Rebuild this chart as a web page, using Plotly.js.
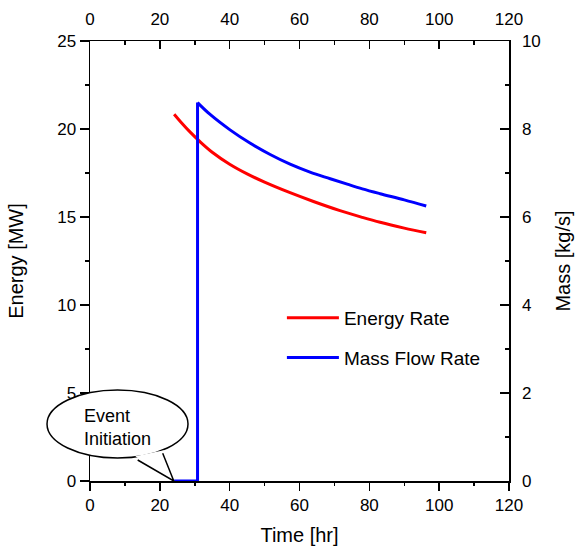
<!DOCTYPE html>
<html>
<head>
<meta charset="utf-8">
<script src="https://cdn.plot.ly/plotly-3.0.1.min.js"></script>
<style>body{margin:0;background:#fff}#chart{width:576px;height:549px}</style>
</head>
<body>
<div id="chart"></div>
<script>
// Energy rate (MW) vs time (hr)
const energyTime = [24.1, 26, 28.7, 31.5, 35, 40, 45, 50, 57.3, 64, 71.6, 78, 83.1, 90, 96.3];
const energyRate = [20.84, 20.40, 19.82, 19.28, 18.68, 18.0, 17.45, 16.98, 16.38, 15.88, 15.36, 14.98, 14.7, 14.37, 14.1];
// Mass flow rate (kg/s): zero step before the jump, then decay
const massStepTime = [24.1, 30.8, 30.8];
const massStepRate = [0, 0, 8.6];
const massTime = [30.8, 34.4, 40.1, 45.8, 51.6, 57.3, 63, 68.8, 73.9, 78, 83.1, 90, 96.3];
const massRate = [8.6, 8.33, 7.98, 7.68, 7.42, 7.2, 7.02, 6.87, 6.74, 6.64, 6.53, 6.39, 6.25];

const FONT = 'Liberation Sans, Arial, sans-serif';

const dummy = (xa, ya) => ({x: [0], y: [0], xaxis: xa, yaxis: ya, mode: 'markers', marker: {opacity: 0},
  showlegend: false, hoverinfo: 'skip'});

const traces = [
  {x: energyTime, y: energyRate, name: 'Energy Rate', type: 'scatter', mode: 'lines', legendgroup: 'e',
   line: {color: '#ff0000', width: 3, shape: 'spline', smoothing: 1}, xaxis: 'x', yaxis: 'y'},
  {x: massTime, y: massRate, name: 'Mass Flow Rate', type: 'scatter', mode: 'lines', legendgroup: 'm',
   line: {color: '#0000ff', width: 3, shape: 'spline', smoothing: 1}, xaxis: 'x', yaxis: 'y2'},
  {x: massStepTime, y: massStepRate, name: 'Mass Flow Rate', type: 'scatter', mode: 'lines', legendgroup: 'm',
   showlegend: false, line: {color: '#0000ff', width: 3}, xaxis: 'x', yaxis: 'y2', cliponaxis: false},
  dummy('x2', 'y'), dummy('x3', 'y'), dummy('x4', 'y'), dummy('x', 'y3'), dummy('x', 'y4')
];

const TF = {family: FONT, size: 17, color: '#000'};
const TITLEF = {family: FONT, size: 20, color: '#000'};
const common = {showgrid: false, zeroline: false, showline: true, linecolor: '#000', linewidth: 1.5,
  tickcolor: '#000', tickwidth: 1.5, tickfont: TF, tickmode: 'linear', tick0: 0};
const minorAxis = (extra) => Object.assign({showgrid: false, zeroline: false, showline: false,
  tickcolor: '#000', tickwidth: 1.5, ticklen: 4, showticklabels: false, tickmode: 'linear', tick0: 0}, extra);

const layout = {
  width: 576, height: 549,
  margin: {l: 90, r: 67, t: 41, b: 68},
  paper_bgcolor: '#fff', plot_bgcolor: '#fff',
  font: {family: FONT, color: '#000'},
  showlegend: true,
  legend: {x: 0.458, y: 0.4136, xanchor: 'left', yanchor: 'top', bgcolor: 'rgba(0,0,0,0)',
    font: {family: FONT, size: 19, color: '#000'}, tracegroupgap: 12, itemwidth: 52},
  xaxis: Object.assign({}, common, {range: [0, 120], dtick: 20, ticks: 'outside', ticklen: 8,
    title: {text: 'Time [hr]', font: TITLEF, standoff: 14}}),
  xaxis2: Object.assign({}, common, {range: [0, 120], dtick: 20, ticks: 'inside', ticklen: 8,
    overlaying: 'x', side: 'top', anchor: 'y', ticklabelstandoff: 8}),
  xaxis3: minorAxis({range: [0, 120], dtick: 10, ticks: 'outside', overlaying: 'x', side: 'bottom', anchor: 'y'}),
  xaxis4: minorAxis({range: [0, 120], dtick: 10, ticks: 'inside', overlaying: 'x', side: 'top', anchor: 'y'}),
  yaxis: Object.assign({}, common, {range: [0, 25], dtick: 5, ticks: 'outside', ticklen: 9,
    title: {text: 'Energy [MW]', font: TITLEF, standoff: 28}}),
  yaxis2: Object.assign({}, common, {range: [0, 10], dtick: 2, ticks: 'inside', ticklen: 9,
    overlaying: 'y', side: 'right', anchor: 'x', ticklabelstandoff: 8,
    title: {text: 'Mass [kg/s]', font: TITLEF, standoff: 16}}),
  yaxis3: minorAxis({range: [0, 25], dtick: 2.5, ticks: 'outside', overlaying: 'y', side: 'left', anchor: 'x'}),
  yaxis4: minorAxis({range: [0, 10], dtick: 1, ticks: 'inside', overlaying: 'y', side: 'right', anchor: 'x'}),
  shapes: [
    {type: 'circle', xref: 'paper', yref: 'paper', x0: -0.1026, x1: 0.2339, y0: 0.0523, y1: 0.2068,
     fillcolor: '#fff', line: {color: '#000', width: 1.5}, layer: 'above'},
    {type: 'path', xref: 'paper', yref: 'paper', path: 'M0.108,0.056 L0.2,0.0 L0.176,0.07 Z',
     fillcolor: '#fff', line: {width: 0}, layer: 'above'},
    {type: 'path', xref: 'paper', yref: 'paper', path: 'M0.1138,0.0477 L0.2,0.0 L0.1735,0.063',
     line: {color: '#000', width: 1.5}, layer: 'above'}
  ],
  annotations: [
    {xref: 'paper', yref: 'paper', x: -0.02, y: 0.1205, xanchor: 'left', yanchor: 'middle', align: 'left',
     text: 'Event<br>Initiation', showarrow: false, font: {family: FONT, size: 18, color: '#000'}}
  ]
};

Plotly.newPlot('chart', traces, layout, {displayModeBar: false, staticPlot: true});
</script>
</body>
</html>
